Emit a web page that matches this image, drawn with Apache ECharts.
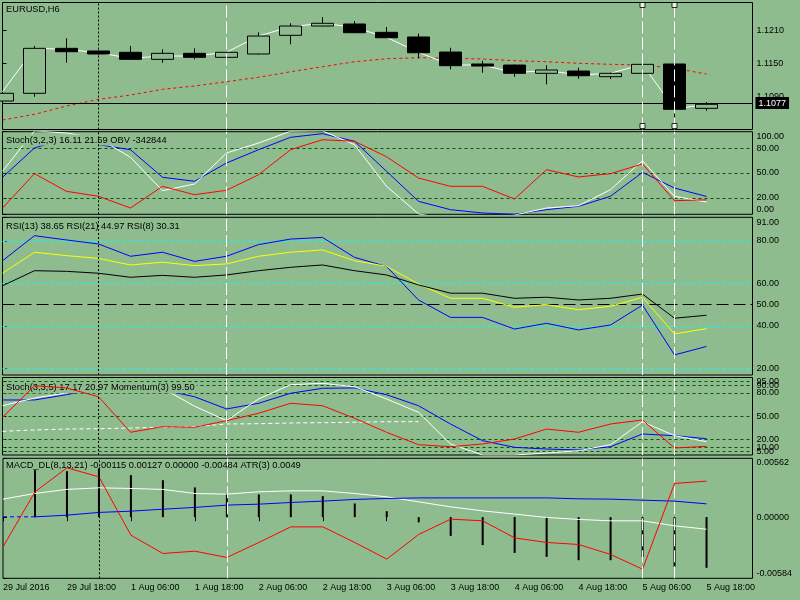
<!DOCTYPE html>
<html>
<head>
<meta charset="utf-8">
<title>EURUSD,H6</title>
<script src="https://cdn.jsdelivr.net/npm/echarts@6.0.0/dist/echarts.min.js"></script>
<style>
  html, body { margin: 0; padding: 0; background: #8FBC8F; }
  #chart { width: 800px; height: 600px; }
</style>
</head>
<body>
<div id="chart"></div>
<script>
var BG = '#8FBC8F';
var FONT = 'Liberation Sans';

// time axis (one label every 2 bars)
var timeLabels = ['29 Jul 2016', '29 Jul 18:00', '1 Aug 06:00', '1 Aug 18:00', '2 Aug 06:00', '2 Aug 18:00',
  '3 Aug 06:00', '3 Aug 18:00', '4 Aug 06:00', '4 Aug 18:00', '5 Aug 06:00', '5 Aug 18:00'];
var labelBars = [0, 2, 4, 6, 8, 10, 12, 14, 16, 18, 20, 22];

// EURUSD H6 candles: open, close, low, high
var ohlc = [
  [1.10808, 1.10950, 1.10808, 1.10950],
  [1.10950, 1.11776, 1.10887, 1.11819],
  [1.11776, 1.11714, 1.11512, 1.11960],
  [1.11727, 1.11672, 1.11662, 1.11736],
  [1.11703, 1.11574, 1.11561, 1.11819],
  [1.11574, 1.11684, 1.11512, 1.11758],
  [1.11684, 1.11611, 1.11574, 1.11776],
  [1.11611, 1.11703, 1.11574, 1.11708],
  [1.11672, 1.12002, 1.11662, 1.12070],
  [1.12015, 1.12186, 1.11850, 1.12236],
  [1.12186, 1.12236, 1.12177, 1.12351],
  [1.12223, 1.12063, 1.12057, 1.12278],
  [1.12070, 1.11971, 1.11966, 1.12168],
  [1.11984, 1.11695, 1.11593, 1.12045],
  [1.11708, 1.11457, 1.11390, 1.11787],
  [1.11488, 1.11451, 1.11328, 1.11548],
  [1.11469, 1.11317, 1.11255, 1.11479],
  [1.11317, 1.11378, 1.11115, 1.11464],
  [1.11359, 1.11273, 1.11218, 1.11420],
  [1.11255, 1.11317, 1.11212, 1.11332],
  [1.11317, 1.11482, 1.11313, 1.11488],
  [1.11488, 1.10656, 1.10417, 1.11593],
  [1.10674, 1.10748, 1.10630, 1.10790]
];
var maFast = [1.10979, 1.11776, 1.11758, 1.11695, 1.11593, 1.11635, 1.11635, 1.11703, 1.12002, 1.12173, 1.12236, 1.12162,
  1.11978, 1.11703, 1.11470, 1.11470, 1.11328, 1.11372, 1.11286, 1.11317, 1.11482, 1.10661, 1.10748];
var maSlow = [1.10459, 1.10564, 1.10716, 1.10839, 1.10918, 1.11023, 1.11084, 1.11163, 1.11244, 1.11346, 1.11438, 1.11530,
  1.11585, 1.11604, 1.11593, 1.11580, 1.11549, 1.11530, 1.11501, 1.11482, 1.11470, 1.11409, 1.11304];
var bidPrice = 1.1077;
var priceTicks = [1.1210, 1.1150, 1.1090];

// Stoch(3,2,3) + OBV
var stochMain = [44.8, 80.3, 92.4, 84.3, 78.2, 44.8, 40.0, 62.1, 78.2, 93.2, 97.6, 88.4, 52.1, 15.7, 5.6, 1.6, 0, 5.6, 9.7, 21.8, 50.8, 31.8, 21.6];
var stochSignal = [7.6, 49.2, 27.8, 21.8, 7.6, 33.9, 23.7, 29.1, 47.9, 78.2, 90.3, 88.4, 69.7, 43.9, 33.9, 33.9, 18.5, 54.0, 45.2, 49.2, 60.9, 16.5, 17.5];
var obv = [52.1, 101, 98.4, 92, 69.0, 28.6, 36.7, 74.2, 86.3, 100.5, 101, 84.3, 33.9, 0.5, -6, -6, -1, 7.6, 10.4, 29.8, 64.9, 21.8, 14.9];
var stochLevels = [80, 50, 20];
var stochTicks = [100, 80, 50, 20, 0];

// RSI(13) RSI(21) RSI(8)
var rsi8 = [70.7, 82.5, 80.5, 78.6, 72.8, 74.7, 70.4, 72.8, 78.3, 80.9, 81.7, 72.3, 68.0, 52.2, 44.0, 44.0, 38.5, 41.2, 38.1, 40.4, 49.8, 26.3, 30.3];
var rsi13 = [64.8, 74.7, 73.1, 71.8, 68.7, 70.0, 68.4, 69.2, 72.8, 74.7, 75.8, 70.7, 68.1, 59.7, 53.0, 53.0, 48.8, 50.0, 47.6, 49.2, 53.5, 36.2, 38.7];
var rsi21 = [58.9, 66.0, 65.7, 64.8, 62.9, 63.8, 62.9, 64.0, 66.0, 67.6, 68.7, 66.0, 64.0, 59.3, 55.4, 55.4, 53.0, 53.5, 52.2, 53.0, 55.0, 43.6, 45.0];
var rsiLevels = [80, 60, 40, 20];
var rsiMid = 50;
var rsiTicks = [91, 80, 60, 50, 40, 20, 19];

// Stoch(3,3,5) + Momentum(3)
var stoch2Main = [71.0, 71.0, 77.8, 86, 90, 84, 75.2, 59.4, 66.7, 79.6, 86.1, 86.5, 77.8, 63.6, 40.0, 18.5, 9.9, 7.7, 6.5, 10.7, 27.1, 24.9, 21.0];
var stoch2Signal = [48.6, 89.4, 86.5, 75.2, 29.3, 36.5, 35.7, 44.3, 53.8, 66.7, 63.6, 47.4, 29.3, 13.3, 10.7, 14.2, 20.6, 33.5, 29.3, 40.0, 45.2, 9.0, 11.2];
var stoch2Fast = [63.6, 73.5, 80.0, 88, 92, 86, 63.0, 44.3, 72.3, 90.7, 92.5, 88.1, 72.3, 55.1, 14.2, 0, 0, 2.6, 5.5, 13.3, 43.0, 24.9, 17.2];
var momentum = [30.6, 32.3, 33.5, 33.9, 34.8, 35.7, 36.5, 40.0, 40.4, 41.3, 41.7, 42.2, 43.0, 43.0,
  null, null, null, null, null, null, null, null, null];
var stoch2Levels = [95, 90, 80, 50, 20, 10, 5];
var stoch2Ticks = [100, 95, 90, 80, 50, 20, 10, 5, 0];

// MACD_DL(8,13,21) + ATR(3)
var macdHist = [null, 0.00449, 0.00439, 0.00465, 0.00401, 0.00353, 0.00284, 0.00226, 0.00217, 0.00217, 0.00201, 0.00131,
  0.00057, -0.00050, -0.00179, -0.00267, -0.00341, -0.00379, -0.00411, -0.00411, -0.00379, -0.00475, -0.00484];
var macdMain = [0.00172, 0.00226, 0.00265, 0.00280, 0.00274, 0.00265, 0.00226, 0.00220, 0.00242, 0.00251, 0.00251, 0.00226,
  0.00194, 0.00146, 0.00098, 0.00060, 0.00029, -0.00003, -0.00022, -0.00035, -0.00035, -0.00083, -0.00115];
var macdSignal = [0.00003, 0.00003, 0.00019, 0.00045, 0.00057, 0.00076, 0.00093, 0.00115, 0.00124, 0.00140, 0.00153, 0.00169,
  0.00178, 0.00184, 0.00184, 0.00184, 0.00184, 0.00184, 0.00175, 0.00172, 0.00162, 0.00153, 0.00127];
var atr = [-0.00284, 0.00242, 0.00471, 0.00385, -0.00172, -0.00347, -0.00325, -0.00385, -0.00242, -0.00093, -0.00093, -0.00242,
  -0.00401, -0.00165, -0.00019, -0.00035, -0.00198, -0.00242, -0.00261, -0.00356, -0.00497, 0.00322, 0.00344];
var macdTicks = [0.00562, 0, -0.00584];

// vertical objects drawn on the chart (bar index)
var markerBars = [3, 7, 20, 21];

var paneTitles = [
  'EURUSD,H6',
  'Stoch(3,2,3) 16.11 21.59 OBV -342844',
  'RSI(13) 38.65 RSI(21) 44.97 RSI(8) 30.31',
  'Stoch(3,3,5) 17.17 20.97 Momentum(3) 99.50',
  'MACD_DL(8,13,21) -0.00115 0.00127 0.00000 -0.00484 ATR(3) 0.0049'
];

// pane layout in pixels
var panes = [
  { top: 2.5, height: 127, min: 1.10285, max: 1.12618, titleTop: 4.3 },
  { top: 131.7, height: 82.6, min: 0, max: 100, titleTop: 134.6 },
  { top: 217.3, height: 157.7, min: 16.84, max: 91.17, titleTop: 221 },
  { top: 377.5, height: 77.5, min: 0, max: 100, titleTop: 382.3 },
  { top: 458.3, height: 120, min: -0.00584, max: 0.00562, titleTop: 460 }
];
var GRID_LEFT = 2.5, GRID_W = 750, BAR_PX = 32;

var markerStyles = [
  { color: '#000', type: [2, 2], width: 1 },
  { color: '#fff', type: [12, 4], width: 1 },
  { color: '#fff', type: [12, 4], width: 1 },
  { color: '#fff', type: [12, 4], width: 1 }
];

function pts(arr) {
  return arr.map(function (v, i) { return [i, v]; });
}

function line(pane, values, color, z, dash) {
  return {
    type: 'line', xAxisIndex: pane, yAxisIndex: pane,
    data: pts(values), symbol: 'none', silent: true, z: z || 2,
    lineStyle: { color: color, width: 1, type: dash || 'solid' }
  };
}

function verticals() {
  return {
    symbol: 'none', silent: true, z: 6, label: { show: false },
    data: markerBars.map(function (b, k) {
      return { xAxis: b, lineStyle: markerStyles[k] };
    })
  };
}

function levelLines(values, color, dash) {
  return values.map(function (v) {
    return { yAxis: v, lineStyle: { color: color, type: dash, width: 1 } };
  });
}

function levelMark(data) {
  return { symbol: 'none', silent: true, z: 1, precision: 5, label: { show: false }, data: data };
}

function yAxisFor(idx, ticks, digits, edged) {
  var p = panes[idx];
  return {
    type: 'value', gridIndex: idx, position: 'right', min: p.min, max: p.max,
    axisLine: { show: false }, splitLine: { show: false },
    axisTick: { show: true, customValues: ticks, length: 4, lineStyle: { color: '#000' } },
    axisLabel: {
      customValues: ticks, margin: 4, color: '#000', fontFamily: FONT, fontSize: 9, hideOverlap: false,
      formatter: function (v) {
        var s = v.toFixed(digits);
        // MT4 pushes the max/min labels inside the window
        if (edged && v === ticks[0]) return '{t|' + s + '}';
        if (edged && v === ticks[ticks.length - 1] && v === p.min) return '{b|' + s + '}';
        return s;
      },
      rich: {
        t: { padding: [9, 0, 0, 0], fontFamily: FONT, fontSize: 9, color: '#000' },
        b: { padding: [0, 0, 9, 0], fontFamily: FONT, fontSize: 9, color: '#000' }
      }
    }
  };
}

var grids = [], xAxes = [], titles = [];
panes.forEach(function (p, i) {
  grids.push({ left: GRID_LEFT, width: GRID_W, top: p.top, height: p.height, show: true,
    borderColor: '#000', borderWidth: 1, backgroundColor: 'transparent' });
  xAxes.push({
    type: 'value', gridIndex: i, min: 0, max: GRID_W / BAR_PX, show: i === 4,
    axisLine: { show: false }, splitLine: { show: false },
    axisTick: { customValues: labelBars, length: 4, lineStyle: { color: '#000' } },
    axisLabel: {
      customValues: labelBars, align: 'left', margin: 5, color: '#000', fontFamily: FONT, fontSize: 9,
      hideOverlap: false,
      formatter: function (v) { return timeLabels[labelBars.indexOf(v)]; }
    }
  });
  titles.push({
    text: paneTitles[i], left: 4, top: p.titleTop, padding: [1, 2, 1, 2], z: 3,
    backgroundColor: (i === 1 || i === 3) ? BG : 'transparent',
    textStyle: { fontFamily: FONT, fontSize: 9.3, fontWeight: 'normal', color: '#000' }
  });
});

var yAxes = [
  yAxisFor(0, priceTicks, 4, false),
  yAxisFor(1, stochTicks, 2, true),
  yAxisFor(2, rsiTicks, 2, true),
  yAxisFor(3, stoch2Ticks, 2, true),
  yAxisFor(4, macdTicks, 5, true)
];

var series = [];

// pane 0: price
series.push({
  type: 'candlestick', xAxisIndex: 0, yAxisIndex: 0, silent: true,
  data: ohlc.map(function (d, i) { return [i, d[0], d[1], d[2], d[3]]; }),
  encode: { x: 0, y: [1, 2, 3, 4] },
  barWidth: 22,
  itemStyle: { color: BG, color0: '#000', borderColor: '#000', borderColor0: '#000', borderWidth: 1 },
  markLine: {
    symbol: 'none', silent: true, z: 6, precision: 5, data: [{ yAxis: bidPrice }],
    lineStyle: { color: '#000', type: 'solid', width: 1 },
    label: {
      position: 'end', distance: 3, formatter: function () { return bidPrice.toFixed(4); },
      backgroundColor: '#000', color: '#fff', padding: [2, 3, 1, 3], fontFamily: FONT, fontSize: 9
    }
  }
});
series.push(line(0, maSlow, '#ff0000', 2, [3, 3]));
var fast = line(0, maFast, '#ffffff');
fast.markLine = verticals();
series.push(fast);
// selection handles of the two chosen vertical lines
series.push({
  type: 'scatter', xAxisIndex: 0, yAxisIndex: 0, silent: true, z: 7,
  symbol: 'rect', symbolSize: 5,
  data: [[20, 1.12572], [21, 1.12572], [20, 1.10349], [21, 1.10349]],
  itemStyle: { color: '#fff', borderColor: '#000', borderWidth: 1 }
});

// pane 1: Stoch + OBV
var s1 = line(1, stochMain, '#0000ff');
s1.markLine = levelMark(levelLines(stochLevels, '#005a00', [3, 3]));
series.push(s1);
series.push(line(1, stochSignal, '#ff0000', 5));
var o1 = line(1, obv, '#ffffff');
o1.markLine = verticals();
series.push(o1);

// pane 2: RSI
var r8 = line(2, rsi8, '#0000ff');
r8.markLine = levelMark(levelLines(rsiLevels, '#00ffff', [3, 3]).concat(levelLines([rsiMid], '#000', [12, 5])));
series.push(r8);
series.push(line(2, rsi13, '#ffff00'));
var r21 = line(2, rsi21, '#000000');
r21.markLine = verticals();
series.push(r21);

// pane 3: Stoch + Momentum
var s2 = line(3, stoch2Main, '#0000ff');
s2.markLine = levelMark(levelLines(stoch2Levels, '#005a00', [3, 3]));
series.push(s2);
series.push(line(3, stoch2Signal, '#ff0000', 5));
var f2 = line(3, stoch2Fast, '#ffffff');
f2.markLine = verticals();
series.push(f2);
series.push(line(3, momentum, '#ffffff', 2, [4, 3]));

// pane 4: MACD + ATR
series.push({
  type: 'bar', xAxisIndex: 4, yAxisIndex: 4, silent: true, barWidth: 2,
  data: pts(macdHist), itemStyle: { color: '#000' }
});
var m1 = line(4, macdMain, '#ffffff');
m1.markLine = verticals();
series.push(m1);
var sig = line(4, macdSignal, '#0000ff');
sig.data = sig.data.slice(1);
series.push(sig);
series.push(line(4, macdSignal.slice(0, 2), '#0000ff', 2, [4, 3]));
series.push(line(4, atr, '#ff0000', 5));

var chart = echarts.init(document.getElementById('chart'));
chart.setOption({
  animation: false,
  backgroundColor: BG,
  textStyle: { fontFamily: FONT },
  title: titles,
  grid: grids,
  xAxis: xAxes,
  yAxis: yAxes,
  series: series
});
</script>
</body>
</html>
